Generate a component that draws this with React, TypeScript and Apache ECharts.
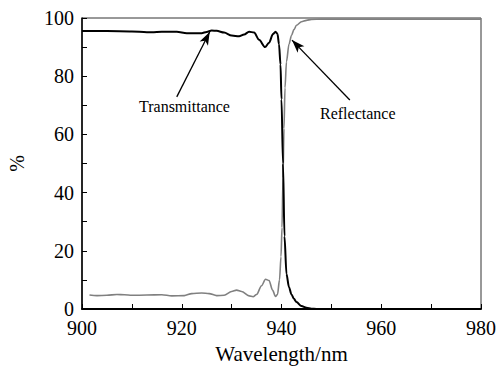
import React, { useEffect, useRef } from "react";
import * as echarts from "echarts";

// Transmittance (black)
const tWave = [900, 905, 910, 913, 914, 916, 919, 921, 924, 925, 926, 927, 928.5, 930, 931.5, 932.5, 933.5, 934.5, 935.5, 936.7, 937.5, 938.3, 938.8, 939.2, 939.5, 939.8, 940.0, 940.3, 940.6, 941, 941.5, 942, 942.5, 943, 944, 945, 946, 947, 960, 980];
const tVal = [95.5, 95.5, 95.4, 95.1, 95.1, 95.3, 95.3, 94.8, 94.8, 95.2, 95.7, 95.6, 95.0, 94.0, 93.7, 94.3, 95.3, 95.0, 92.5, 90.0, 91.5, 94.5, 95.3, 94.5, 91, 84, 72, 50, 25, 12, 7.5, 5, 3.5, 2.4, 1.0, 0.4, 0.1, 0, 0, 0];

// Reflectance (gray)
const rWave = [901.5, 903, 905, 907, 908.5, 910, 913, 916, 918, 920.5, 922, 924, 925.5, 927, 928.5, 930, 931, 932, 933.5, 934.3, 935, 936, 936.8, 937.5, 938.2, 938.8, 939.2, 939.6, 939.9, 940.1, 940.3, 940.5, 940.7, 941, 941.5, 942, 942.5, 943, 944, 945, 946, 948, 960, 980];
const rVal = [4.8, 4.6, 4.7, 5.0, 4.9, 4.7, 4.8, 4.9, 4.5, 4.6, 5.3, 5.5, 5.3, 4.6, 4.7, 6.0, 6.5, 6.0, 4.5, 4.2, 5.0, 8.0, 10.2, 9.8, 6.5, 4.3, 5.0, 10, 18, 28, 45, 62, 76, 85, 91, 94, 96, 97.5, 98.7, 99.2, 99.5, 99.6, 99.6, 99.6];

// Annotation arrows (data coordinates: tail, head)
const tArrow = [[919.0, 72.9], [925.6, 95.2]];
const rArrow = [[953.7, 71.8], [942.1, 92.4]];

const xTicks = [900, 920, 940, 960, 980];
const yTicks = [0, 20, 40, 60, 80, 100];

const FONT = "Liberation Serif";

export default function App() {
  const ref = useRef<HTMLDivElement>(null);
  useEffect(() => {
    document.body.style.margin = "0";
    const chart = echarts.init(ref.current!, null, { renderer: "svg" });
    const arrowLine = (pts: number[][]) => ({
      silent: true,
      symbol: ["none", "arrow"],
      symbolSize: [7, 13],
      label: { show: false },
      lineStyle: { color: "#000", width: 1.3, type: "solid" },
      data: [[{ coord: pts[0] }, { coord: pts[1] }]],
    });
    chart.setOption({
      animation: false,
      textStyle: { fontFamily: FONT },
      grid: {
        left: 82,
        right: 21,
        top: 18,
        bottom: 58,
        containLabel: false,
        outerBoundsMode: "none",
        show: true,
        borderColor: "#333",
        borderWidth: 1,
      },
      xAxis: {
        type: "value",
        min: xTicks[0],
        max: xTicks[xTicks.length - 1],
        interval: 20,
        name: "Wavelength/nm",
        nameLocation: "middle",
        nameGap: 34,
        nameTextStyle: { fontFamily: FONT, fontSize: 21, color: "#000" },
        axisLine: { lineStyle: { color: "#000", width: 2 } },
        axisTick: { inside: true, length: 5, lineStyle: { color: "#000" } },
        minorTick: { show: true, splitNumber: 2, length: 5, lineStyle: { color: "#000" } },
        splitLine: { show: false },
        axisLabel: { fontFamily: FONT, fontSize: 20, lineHeight: 16, color: "#000", margin: 11 },
      },
      yAxis: {
        type: "value",
        min: yTicks[0],
        max: yTicks[yTicks.length - 1],
        interval: 20,
        name: "%",
        nameLocation: "middle",
        nameGap: 55,
        nameRotate: 90,
        nameTextStyle: { fontFamily: FONT, fontSize: 20, color: "#000" },
        axisLine: { show: true, lineStyle: { color: "#000", width: 1.5 } },
        axisTick: { show: true, inside: true, length: 5, lineStyle: { color: "#000" } },
        minorTick: { show: true, splitNumber: 2, length: 5, lineStyle: { color: "#000" } },
        splitLine: { show: false },
        axisLabel: { fontFamily: FONT, fontSize: 20, lineHeight: 16, color: "#000", margin: 8 },
      },
      series: [
        {
          name: "Reflectance",
          type: "line",
          data: rWave.map((w, i) => [w, rVal[i]]),
          showSymbol: false,
          smooth: 0.3,
          smoothMonotone: "x",
          lineStyle: { color: "#808080", width: 1.6 },
          markLine: arrowLine(rArrow),
        },
        {
          name: "Transmittance",
          type: "line",
          data: tWave.map((w, i) => [w, tVal[i]]),
          showSymbol: false,
          smooth: 0.3,
          smoothMonotone: "x",
          lineStyle: { color: "#000", width: 2 },
          markLine: arrowLine(tArrow),
        },
      ],
      graphic: [
        {
          type: "text",
          left: 139,
          top: 98,
          style: { text: "Transmittance", fontFamily: FONT, fontSize: 16, fill: "#000" },
        },
        {
          type: "text",
          left: 320,
          top: 105,
          style: { text: "Reflectance", fontFamily: FONT, fontSize: 16, fill: "#000" },
        },
      ],
    });
    return () => chart.dispose();
  }, []);
  return <div ref={ref} style={{ width: 502, height: 367 }} />;
}
